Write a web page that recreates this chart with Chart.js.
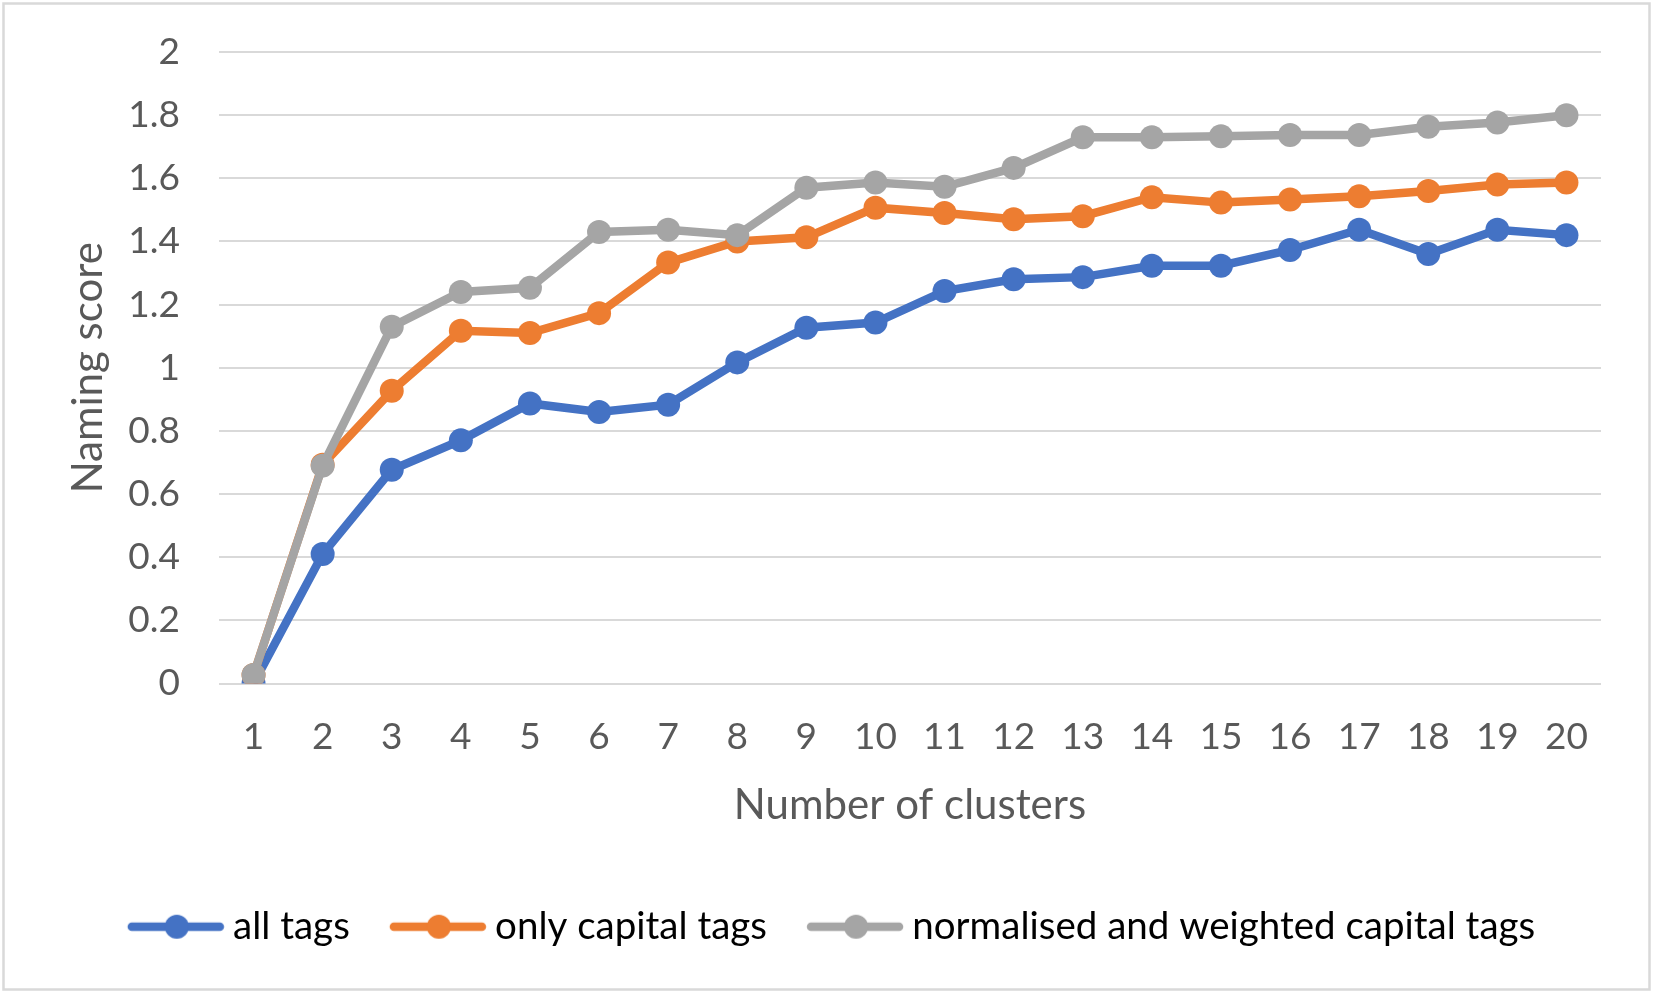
<!DOCTYPE html>
<html>
<head>
<meta charset="utf-8">
<script src="https://cdn.jsdelivr.net/npm/chart.js@4.4.1/dist/chart.umd.min.js"></script>
<style>
  html, body { margin: 0; padding: 0; background: #fff; overflow: hidden; }
</style>
</head>
<body>
<canvas id="chart" width="1653" height="993"></canvas>
<script>
var clusters = ['1','2','3','4','5','6','7','8','9','10','11','12','13','14','15','16','17','18','19','20'];
var allTags = [0.0, 0.41, 0.677, 0.77, 0.887, 0.86, 0.883, 1.017, 1.127, 1.143, 1.243, 1.28, 1.287, 1.323, 1.323, 1.373, 1.437, 1.36, 1.437, 1.42];
var capitalTags = [0.027, 0.693, 0.927, 1.117, 1.11, 1.173, 1.333, 1.4, 1.413, 1.507, 1.49, 1.47, 1.48, 1.54, 1.523, 1.533, 1.543, 1.56, 1.58, 1.587];
var weightedTags = [0.027, 0.69, 1.13, 1.24, 1.253, 1.43, 1.437, 1.42, 1.57, 1.587, 1.573, 1.633, 1.73, 1.73, 1.733, 1.737, 1.737, 1.763, 1.777, 1.8];
var seriesNames = ['all tags', 'only capital tags', 'normalised and weighted capital tags'];
var seriesColors = ['#4472c4', '#ed7d31', '#a5a5a5'];

var textColor = '#595959';
var gridColor = '#d9d9d9';
var fontFamily = 'Lato, "Open Sans", sans-serif';

// little line + marker swatch like the Excel legend
function legendSwatch(color) {
  var c = document.createElement('canvas');
  c.width = 108; c.height = 28;
  var g = c.getContext('2d');
  g.strokeStyle = color;
  g.lineWidth = 8.5;
  g.lineCap = 'round';
  g.beginPath();
  g.moveTo(15, 14);
  g.lineTo(103, 14);
  g.stroke();
  g.fillStyle = color;
  g.beginPath();
  g.arc(60, 14, 12, 0, Math.PI * 2);
  g.fill();
  return c;
}

var chartBorder = {
  id: 'chartBorder',
  afterDraw: function(chart) {
    var ctx = chart.ctx;
    ctx.save();
    ctx.strokeStyle = gridColor;
    ctx.lineWidth = 2.5;
    ctx.strokeRect(3.5, 3.5, chart.width - 7, chart.height - 7);
    ctx.restore();
  }
};

function makeDataset(i, values, order) {
  return {
    label: seriesNames[i],
    data: values,
    borderColor: seriesColors[i],
    backgroundColor: seriesColors[i],
    borderWidth: 8.5,
    pointRadius: 12,
    pointBorderWidth: 0,
    pointHoverRadius: 12,
    tension: 0,
    order: order
  };
}

var ctx = document.getElementById('chart').getContext('2d');
var chart = new Chart(ctx, {
  type: 'line',
  data: {
    labels: clusters,
    datasets: [
      makeDataset(0, allTags, 2),
      makeDataset(1, capitalTags, 1),
      makeDataset(2, weightedTags, 0)
    ]
  },
  options: {
    responsive: false,
    devicePixelRatio: 1,
    animation: false,
    events: [],
    layout: {
      padding: { left: 62, right: 52, top: 52, bottom: 37 }
    },
    plugins: {
      tooltip: { enabled: false },
      legend: {
        position: 'bottom',
        labels: {
          color: textColor,
          font: { family: fontFamily, size: 38.5 },
          usePointStyle: true,
          pointStyleWidth: 86,
          padding: 40,
          generateLabels: function(chart) {
            return seriesNames.map(function(name, i) {
              return {
                text: name,
                fillStyle: seriesColors[i],
                strokeStyle: seriesColors[i],
                lineWidth: 0,
                pointStyle: legendSwatch(seriesColors[i]),
                datasetIndex: i,
                hidden: false
              };
            });
          }
        }
      }
    },
    scales: {
      x: {
        offset: true,
        grid: { display: false, drawTicks: false },
        border: { display: false },
        ticks: {
          color: textColor,
          font: { family: fontFamily, size: 37 },
          padding: 31,
          maxRotation: 0,
          autoSkip: false
        },
        title: {
          display: true,
          text: 'Number of clusters',
          color: textColor,
          font: { family: fontFamily, size: 42 },
          padding: { top: 0, bottom: 37 }
        },
        afterFit: function(scale) { scale.height = 184; }
      },
      y: {
        min: 0,
        max: 2,
        grid: { color: gridColor, lineWidth: 2, drawTicks: false },
        border: { display: false },
        ticks: {
          stepSize: 0.2,
          color: textColor,
          font: { family: fontFamily, size: 37 },
          padding: 39,
          callback: function(v) { return String(Math.round(v * 10) / 10); }
        },
        title: {
          display: true,
          text: 'Naming score',
          color: textColor,
          font: { family: fontFamily, size: 42 },
          padding: { top: 1, bottom: 0 }
        },
        afterFit: function(scale) {
          scale.width = 157;
          // tick padding should only push labels sideways, not shrink the plot
          scale.paddingTop = 0;
          scale.paddingBottom = 0;
        }
      }
    }
  },
  plugins: [chartBorder]
});
</script>
</body>
</html>
